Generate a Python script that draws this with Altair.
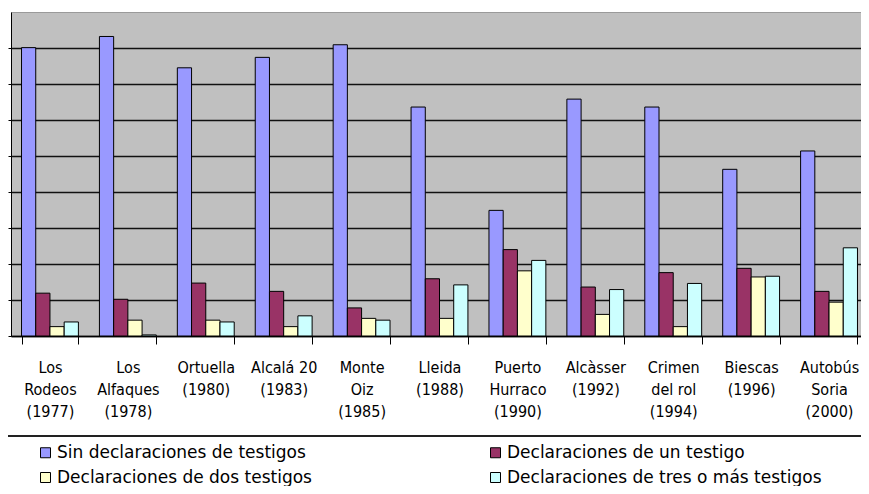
import altair as alt
import pandas as pd

categories = ["Los|Rodeos|(1977)", "Los|Alfaques|(1978)", "Ortuella|(1980)", "Alcalá 20|(1983)",
              "Monte|Oiz|(1985)", "Lleida|(1988)", "Puerto|Hurraco|(1990)", "Alcàsser|(1992)",
              "Crimen|del rol|(1994)", "Biescas|(1996)", "Autobús|Soria|(2000)"]
series = ["Sin declaraciones de testigos", "Declaraciones de un testigo",
          "Declaraciones de dos testigos", "Declaraciones de tres o más testigos"]
sin_testigos = [80.1, 83.2, 74.5, 77.4, 80.9, 63.6, 34.9, 65.8, 63.6, 46.3, 51.4]
un_testigo = [11.9, 10.2, 14.7, 12.4, 7.8, 15.9, 24.0, 13.6, 17.6, 18.8, 12.4]
dos_testigos = [2.6, 4.4, 4.4, 2.6, 4.9, 4.9, 18.1, 6.0, 2.6, 16.4, 9.4]
tres_testigos = [3.9, 0.3, 3.9, 5.6, 4.4, 14.2, 21.0, 12.9, 14.6, 16.6, 24.5]
colors = ["#9999FF", "#993366", "#FFFFCC", "#CCFFFF"]

rows = []
for s, vals in zip(series, [sin_testigos, un_testigo, dos_testigos, tres_testigos]):
    for c, v in zip(categories, vals):
        rows.append({"caso": c, "serie": s, "valor": v})
df = pd.DataFrame(rows)

label_font = "DejaVu Sans Condensed, Liberation Sans Narrow, Roboto Condensed, sans-serif"

bars = alt.Chart(df).mark_bar(stroke="black", strokeWidth=1).encode(
    x=alt.X("caso:N", sort=categories, title=None,
            scale=alt.Scale(paddingInner=0.27, paddingOuter=0.135, range=[0, 857]),
            axis=alt.Axis(labelAngle=0, labelExpr="split(datum.label, '|')",
                          labelFont=label_font, labelFontSize=16, labelColor="black",
                          labelLineHeight=22, labelPadding=15, tickBand="extent",
                          tickSize=8, tickColor="black", domainColor="black",
                          domainWidth=1.5, labelLimit=200)),
    xOffset=alt.XOffset("serie:N", sort=series, scale=alt.Scale(paddingInner=0, paddingOuter=0)),
    y=alt.Y("valor:Q", title=None, scale=alt.Scale(domain=[0, 90], nice=False),
            axis=alt.Axis(values=[0, 10, 20, 30, 40, 50, 60, 70, 80], labels=False,
                          tickSize=3, tickColor="black", domainColor="black",
                          gridColor="#111111", gridWidth=1.5, grid=True)),
    color=alt.Color("serie:N", sort=series, scale=alt.Scale(domain=series, range=colors),
                    title=None,
                    legend=alt.Legend(orient="none", legendX=26, legendY=432, columns=2,
                                      direction="horizontal",
                                      columnPadding=175, rowPadding=7,
                                      symbolType="square", symbolSize=100,
                                      symbolStrokeColor="black", symbolStrokeWidth=1,
                                      labelFont="DejaVu Sans, sans-serif",
                                      labelFontSize=17, labelColor="black",
                                      labelLimit=400, labelOffset=3)),
)

sep = alt.Chart(pd.DataFrame({"a": [0]})).mark_rule(color="#222222", strokeWidth=2).encode(
    x=alt.value(-3), x2=alt.value(850), y=alt.value(424)
)

chart = alt.layer(bars, sep).properties(
    width=850, height=324, background="white",
    autosize=alt.AutoSizeParams(type="none"),
    padding={"left": 3, "top": 4, "right": 0, "bottom": 150}
).configure_view(fill="#C0C0C0", stroke="#9a9a9a")

chart.save("out.html", embed_options={"renderer": "svg", "actions": False})
